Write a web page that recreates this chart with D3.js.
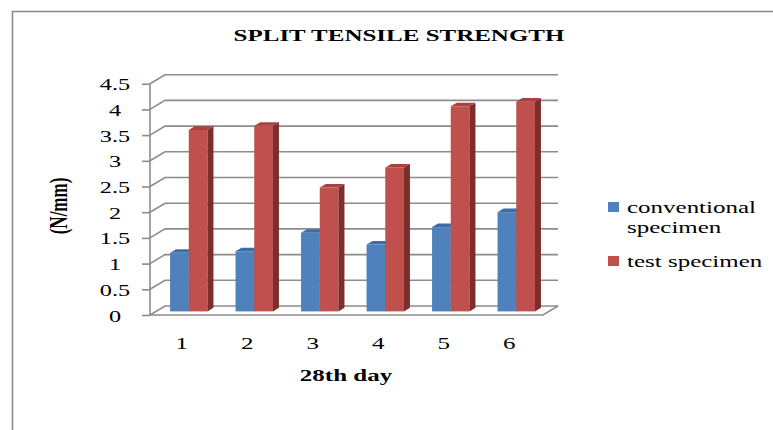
<!DOCTYPE html>
<html>
<head>
<meta charset="utf-8">
<script src="https://cdn.jsdelivr.net/npm/d3@7"></script>
<style>
  body { margin: 0; background: #fff; }
  svg { display: block; }
  text { font-family: "Liberation Serif", "Times New Roman", serif; fill: #000; }
</style>
</head>
<body>
<svg id="chart" width="773" height="430"></svg>
<script>
// Split tensile strength on the 28th day (N/mm)
const days = ["1", "2", "3", "4", "5", "6"];
const conventional = [1.14, 1.17, 1.53, 1.30, 1.64, 1.93];
const testSpecimen = [3.53, 3.61, 2.41, 2.80, 3.99, 4.08];
const yTicks = [0, 0.5, 1, 1.5, 2, 2.5, 3, 3.5, 4, 4.5];
const seriesNames = ["conventional specimen", "test specimen"];
const legendLines = [["conventional", "specimen"], ["test specimen"]];
const seriesValues = [conventional, testSpecimen];

const faceColors = [
  { front: "#4F81BD", top: "#3E6DA6", side: "#2E5582" },
  { front: "#C0504D", top: "#A9423F", side: "#7D2E2C" }
];

const SERIF = '"Liberation Serif", "Times New Roman", serif';
const svg = d3.select("#chart").attr("font-family", SERIF);
const SX = 1.47;            // horizontal text stretch
const gridColor = "#8c8c8c";

// outer chart frame
svg.append("rect")
  .attr("x", 12.5).attr("y", 11.5)
  .attr("width", 820).attr("height", 460)
  .attr("fill", "none").attr("stroke", gridColor).attr("stroke-width", 1.6);

// front-plane scales; depth is a shear toward upper right
const x = d3.scaleBand().domain(days).range([150, 543]);
const xs = d3.scaleBand().domain(d3.range(seriesValues.length)).range([0, 37.4]);
const y = d3.scaleLinear().domain([0, 4.5]).range([315, 83.7]);
const DX = 15, DY = -9;     // full depth of the plot box
const off = d => [DX * d, DY * d];

function place(sel, px, py, sx, rot) {
  sel.attr("transform", `translate(${px},${py})` + (rot ? ` rotate(${rot})` : "") +
    (rot ? ` scale(1,${sx})` : ` scale(${sx},1)`));
}

// walls: left side-wall diagonals and back-wall gridlines
const walls = svg.append("g").attr("stroke", gridColor).attr("stroke-width", 1.6).attr("fill", "none");
yTicks.forEach(v => {
  const [bx, by] = off(1);
  walls.append("path")
    .attr("d", `M${x.range()[0]},${y(v)} L${x.range()[0] + bx},${y(v) + by} L${x.range()[1] + bx},${y(v) + by}`);
});
// floor front and right edges
walls.append("path")
  .attr("d", `M${x.range()[0]},${y(0)} L${x.range()[1]},${y(0)} L${x.range()[1] + DX},${y(0) + DY}`);

// value axis on the front plane
const yAxis = svg.append("g")
  .attr("transform", `translate(${x.range()[0]},0)`)
  .call(d3.axisLeft(y).tickValues(yTicks).tickSize(8).tickPadding(0).tickFormat(d3.format("")))
  .attr("font-family", SERIF);
yAxis.selectAll("path, line").attr("stroke", gridColor).attr("stroke-width", 1.6);
yAxis.select(".domain").attr("d", `M0,${y(4.5)}V${y(0)}`);
yAxis.selectAll("text")
  .attr("x", null).attr("dy", null)
  .attr("text-anchor", "middle")
  .style("font-family", SERIF)
  .style("font-size", "16.5px")
  .attr("fill", "#000")
  .each(function () { place(d3.select(this), -35, 6, SX); });

// category axis labels
const xAxis = svg.append("g")
  .attr("transform", `translate(0,${y(0)})`)
  .call(d3.axisBottom(x).tickSize(0).tickPadding(0))
  .attr("font-family", SERIF);
xAxis.select(".domain").remove();
xAxis.selectAll("text")
  .attr("y", null).attr("dy", null)
  .style("font-family", SERIF)
  .style("font-size", "17px")
  .attr("fill", "#000")
  .each(function () { place(d3.select(this), -1, 34, SX); });

// 3-D columns
const BD0 = 0.4, BD1 = 0.8;  // column depth range inside the box
const bars = svg.append("g");
days.forEach((day, i) => {
  seriesValues.forEach((vals, s) => {
    const v = vals[i];
    const [fx, fy] = off(BD0);
    const [sx, sy] = off(BD1 - BD0);
    const x0 = x(day) + (x.bandwidth() - xs.range()[1]) / 2 + xs(s) + fx;
    const x1 = x0 + xs.bandwidth();
    const yt = y(v) + fy, yb = y(0) + fy;
    const c = faceColors[s];
    bars.append("rect")
      .attr("x", x0).attr("y", yt).attr("width", x1 - x0).attr("height", yb - yt)
      .attr("fill", c.front);
    bars.append("path")
      .attr("d", `M${x1},${yt} L${x1 + sx},${yt + sy} L${x1 + sx},${yb + sy} L${x1},${yb} Z`)
      .attr("fill", c.side);
    bars.append("path")
      .attr("d", `M${x0},${yt} L${x0 + sx},${yt + sy} L${x1 + sx},${yt + sy} L${x1},${yt} Z`)
      .attr("fill", c.top);
  });
});

// title
svg.append("text").text("SPLIT TENSILE STRENGTH")
  .attr("text-anchor", "middle").style("font-family", SERIF)
  .style("font-size", "17px").style("font-weight", "bold")
  .call(sel => place(sel, 399, 41, SX));

// axis titles
svg.append("text").text("28th day")
  .attr("text-anchor", "middle").style("font-family", SERIF)
  .style("font-size", "17px").style("font-weight", "bold")
  .call(sel => place(sel, 346, 381, SX));
svg.append("text").text("(N/mm)")
  .attr("text-anchor", "middle").style("font-family", SERIF)
  .style("font-size", "17px").style("font-weight", "bold")
  .call(sel => place(sel, 67, 206, SX, -90));

// legend
const legend = svg.append("g");
const legendTop = [202, 256];
seriesNames.forEach((name, s) => {
  legend.append("rect")
    .attr("x", 608).attr("y", legendTop[s]).attr("width", 11).attr("height", 10)
    .attr("fill", faceColors[s].front);
  legendLines[s].forEach((line, k) => {
    legend.append("text").text(line)
      .style("font-family", SERIF)
      .style("font-size", "17px")
      .call(sel => place(sel, 627, legendTop[s] + 11 + k * 20, SX));
  });
});
</script>
</body>
</html>
